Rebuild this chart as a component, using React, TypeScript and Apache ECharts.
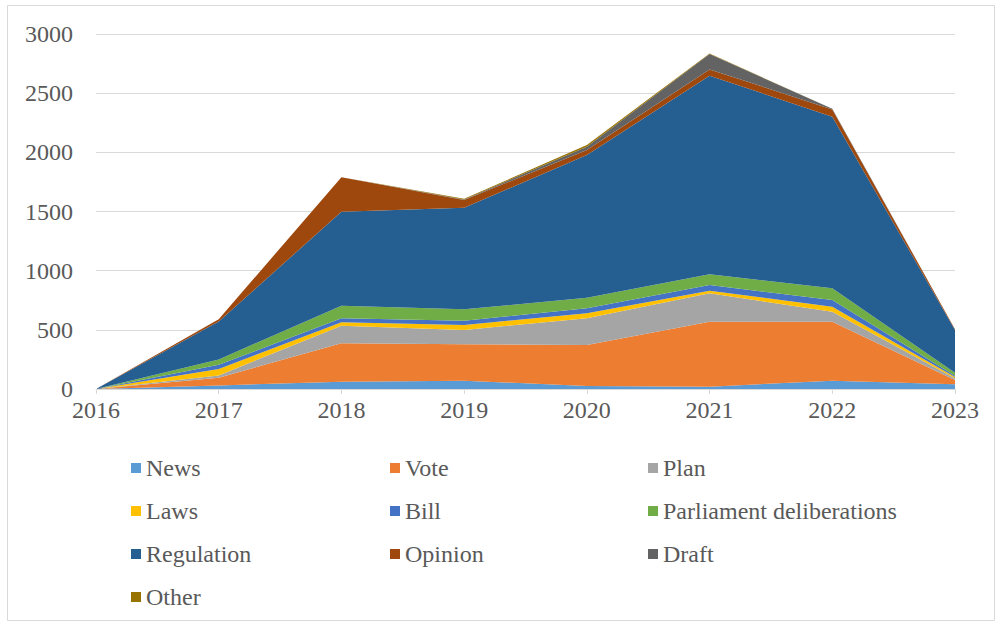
import React, { useEffect, useRef } from "react";
import * as echarts from "echarts";

const years = ["2016", "2017", "2018", "2019", "2020", "2021", "2022", "2023"];
const news = [0, 30, 62, 70, 25, 20, 70, 40];
const vote = [0, 65, 324, 308, 347, 549, 499, 36];
const plan = [0, 20, 149, 121, 225, 240, 84, 14];
const laws = [0, 55, 29, 42, 43, 22, 43, 11];
const bill = [0, 35, 33, 36, 42, 48, 56, 11];
const parliament = [0, 45, 107, 96, 90, 90, 99, 26];
const regulation = [0, 320, 794, 859, 1205, 1679, 1450, 361];
const opinion = [0, 20, 291, 65, 43, 53, 62, 6];
const draft = [0, 0, 0, 5, 28, 130, 5, 0];
const other = [0, 0, 0, 5, 14, 4, 0, 0];

const seriesDefs = [
  { name: "News", data: news, color: "#5B9BD5" },
  { name: "Vote", data: vote, color: "#ED7D31" },
  { name: "Plan", data: plan, color: "#A5A5A5" },
  { name: "Laws", data: laws, color: "#FFC000" },
  { name: "Bill", data: bill, color: "#4472C4" },
  { name: "Parliament deliberations", data: parliament, color: "#70AD47" },
  { name: "Regulation", data: regulation, color: "#255E91" },
  { name: "Opinion", data: opinion, color: "#9E480E" },
  { name: "Draft", data: draft, color: "#636363" },
  { name: "Other", data: other, color: "#997300" },
];

const legendCols = [
  ["News", "Laws", "Regulation", "Other"],
  ["Vote", "Bill", "Opinion"],
  ["Plan", "Parliament deliberations", "Draft"],
];
const legendLefts = [131, 390, 648];

export default function App() {
  const ref = useRef<HTMLDivElement>(null);
  useEffect(() => {
    if (!ref.current) return;
    const chart = echarts.init(ref.current, null, { renderer: "svg" });
    const font = "Liberation Serif";
    chart.setOption({
      animation: false,
      color: seriesDefs.map((s) => s.color),
      textStyle: { fontFamily: font },
      graphic: [
        {
          type: "rect",
          shape: { x: 7.5, y: 5.5, width: 987, height: 615 },
          style: { fill: "none", stroke: "#d9d9d9", lineWidth: 1 },
          silent: true,
        },
      ],
      grid: { left: 96, right: 45, top: 34, bottom: 237, containLabel: false },
      legend: legendCols.map((col, i) => ({
        orient: "vertical",
        left: legendLefts[i],
        top: 456,
        padding: 0,
        data: col,
        icon: "rect",
        itemWidth: 10,
        itemHeight: 10,
        itemGap: 19,
        selectedMode: false,
        textStyle: { fontFamily: font, fontSize: 24, lineHeight: 24, color: "#595959" },
      })),
      xAxis: {
        type: "category",
        data: years,
        boundaryGap: false,
        axisLine: { lineStyle: { color: "#d9d9d9", width: 1 } },
        axisTick: { show: true, length: 5, lineStyle: { color: "#d9d9d9" } },
        axisLabel: { fontFamily: font, fontSize: 24, color: "#595959", margin: 9 },
        splitLine: { show: false },
      },
      yAxis: {
        type: "value",
        min: 0,
        max: 3000,
        interval: 500,
        axisLine: { show: false },
        axisTick: { show: false },
        axisLabel: {
          fontFamily: font,
          fontSize: 24,
          color: "#595959",
          margin: 23,
          formatter: (v: number) => String(v),
        },
        splitLine: { lineStyle: { color: "#d9d9d9", width: 1 } },
      },
      series: seriesDefs.map((s) => ({
        name: s.name,
        type: "line",
        stack: "total",
        data: s.data,
        symbol: "none",
        lineStyle: { width: 0 },
        areaStyle: { color: s.color, opacity: 1 },
        itemStyle: { color: s.color },
      })),
    });
    return () => chart.dispose();
  }, []);
  return (
    <div
      ref={ref}
      style={{ position: "fixed", left: 0, top: 0, width: 1000, height: 626, background: "#fff" }}
    />
  );
}
